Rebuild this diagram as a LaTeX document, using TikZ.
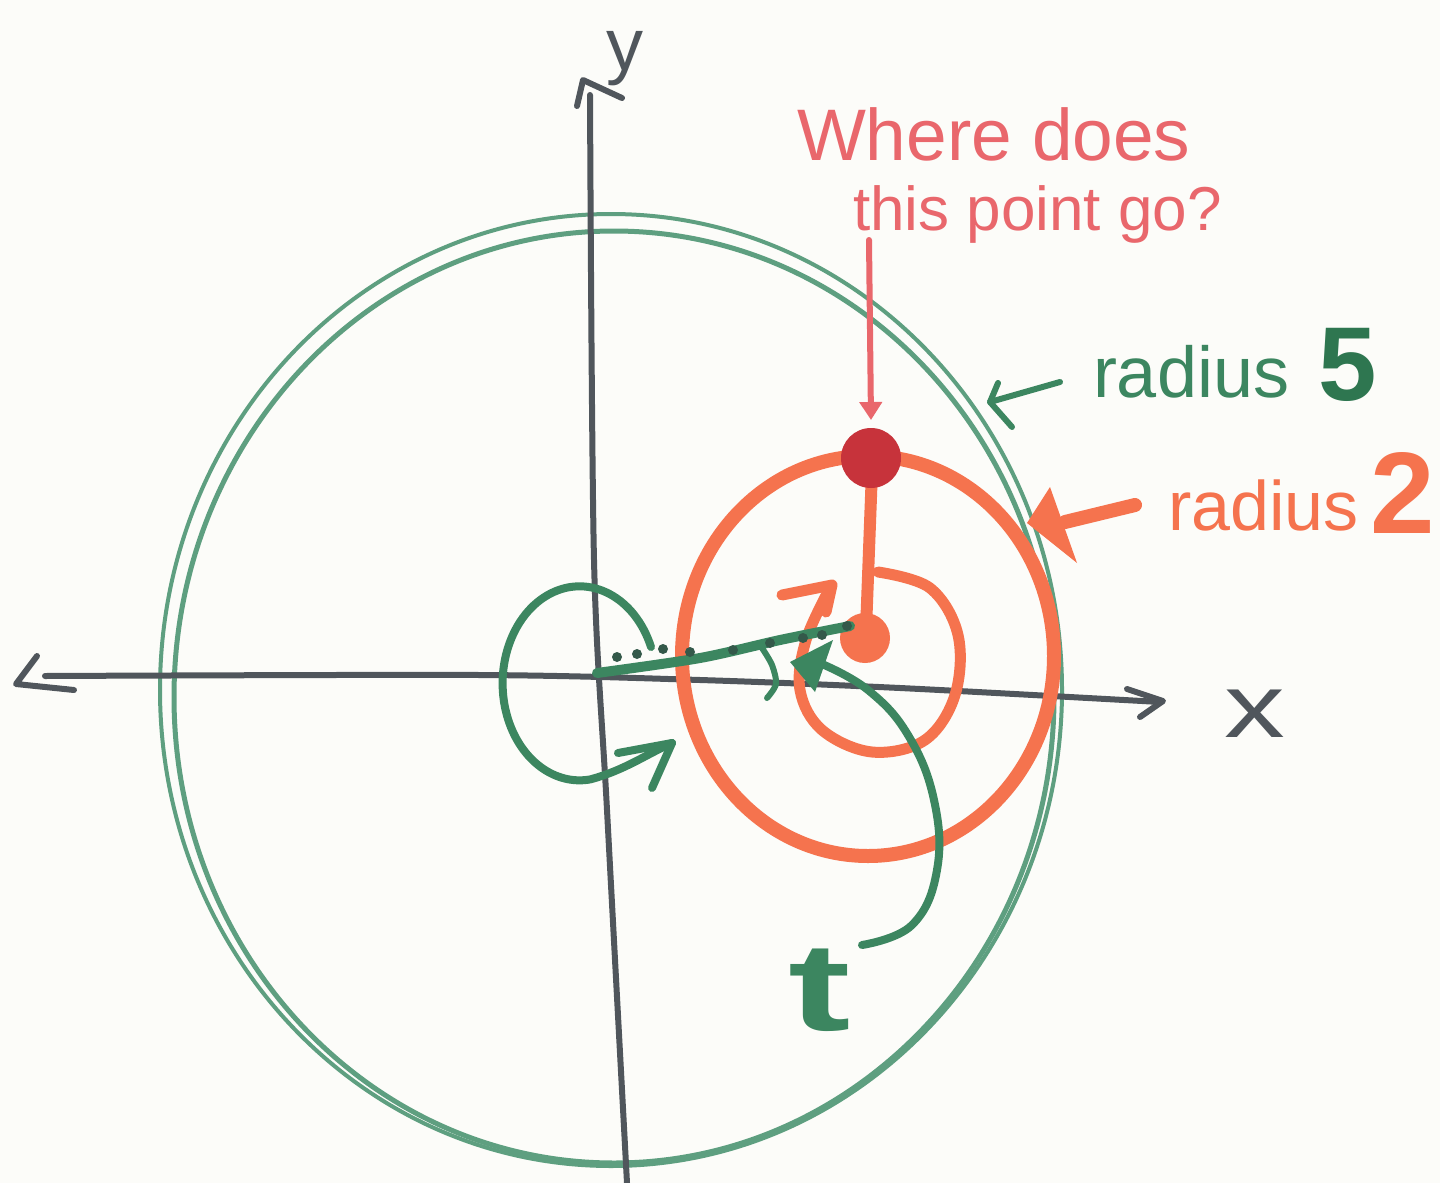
\documentclass[tikz,border=0pt]{standalone}
\usepackage{fontspec}
\usepackage{graphicx}
\setmainfont{Liberation Sans}
\usetikzlibrary{arrows.meta}
\definecolor{paper}{HTML}{FCFCF9}
\definecolor{axisgray}{HTML}{50565C}
\definecolor{greenthin}{HTML}{5E9F80}
\definecolor{greenm}{HTML}{3C8660}
\definecolor{greendark}{HTML}{2E7650}
\definecolor{greendot}{HTML}{34594A}
\definecolor{orangem}{HTML}{F5734E}
\definecolor{pinktext}{HTML}{E9676C}
\definecolor{dotred}{HTML}{C7333B}
\tikzset{
  axisline/.style={draw=axisgray, line width=6pt, line cap=round, line join=round},
  gthin/.style={draw=greenthin, line width=4pt},
  gmark/.style={draw=greenm, line width=8pt, line cap=round, line join=round},
  omark/.style={draw=orangem, line width=12pt, line cap=round, line join=round},
  pmark/.style={draw=pinktext, line width=6pt, line cap=round, line join=round},
  lbl/.style={inner sep=0pt, outer sep=0pt, anchor=base west},
}
\begin{document}
\begin{tikzpicture}[x=1pt,y=-1pt]
\useasboundingbox (0,0) rectangle (1440,1183);
\fill[paper] (0,0) rectangle (1440,1183);

% big green circles (radius 5)
\draw[gthin] (611,690) ellipse [x radius=451, y radius=476];
\draw[gthin, line width=5pt] (614,697) ellipse [x radius=440, y radius=466];

% axes
\draw[axisline] plot[smooth] coordinates {(45,676) (480,675) (700,680) (900,688) (1160,702)};
\draw[axisline] (1127,689) -- (1163,701) -- (1140,717);
\draw[axisline] (37,656) -- (16,684) -- (74,690);
\draw[axisline] plot[smooth] coordinates {(627,1183) (607,810) (594,560) (590,95)};
\draw[axisline] (577,106) -- (583,80) -- (622,98);
\node[lbl, text=axisgray] (ylab) at (606,70) {\fontsize{74}{80}\selectfont y};
\node[lbl, text=axisgray] (xlab) at (1224,737) {\scalebox{1.35}[1]{\fontsize{90}{100}\selectfont x}};

% small green circle around origin
\draw[gmark] (651,647) arc[start angle=-22, end angle=-278, x radius=77, y radius=97]
  .. controls (625,770) and (645,755) .. (672,743);
\draw[gmark] (618,753) -- (672,743) -- (652,788);

% orange big circle (radius 2)
\draw[omark, line width=14pt] (868,656) ellipse [x radius=186, y radius=200];

% inner orange spiral
\draw[omark, line width=11pt] plot[smooth, tension=0.6] coordinates {(878,572) (930,588) (958,635) (955,695) (925,740) (872,752) (822,730) (800,690) (806,640) (830,588)};
\draw[omark, line width=11pt] (782,595) -- (832,585) -- (826,612);

% radius line and points
\draw[omark] (866,630) -- (872,470);
\fill[orangem] (865,638) circle [radius=25];
\node[circle, fill=dotred, minimum size=60pt, inner sep=0pt] (pt) at (871,458) {};

% green radius-5 segment from origin to centre
\draw[gmark, line width=10pt] plot[smooth] coordinates {(597,673) (700,658) (780,640) (850,626)};
\foreach \p in {(617,657),(637,654),(663,649),(690,652),(733,650),(770,643),(803,638),(822,635),(847,626)}
  \fill[greendot] \p circle [radius=5];
\draw[gmark, line width=6pt] plot[smooth] coordinates {(762,648) (772,665) (776,684) (767,698)};

% green t arrow
\draw[gmark] plot[smooth, tension=0.7] coordinates {(862,945) (912,925) (937,870) (934,800) (908,735) (868,690) (822,664)};
\fill[greenm] (790,662) -- (833,640) -- (815,692) -- cycle;
\node[lbl, text=greenm] (tlab) at (788,1030) {\scalebox{1.5}[1]{\fontsize{125}{130}\selectfont\bfseries t}};

% question text and arrow
\node[lbl, text=pinktext] (q1) at (797,160) {\fontsize{73}{80}\selectfont Where does};
\node[lbl, text=pinktext] (q2) at (853,230) {\fontsize{62}{70}\selectfont this point go?};
\coordinate (qs) at (869,240);
\draw[pmark, -{Triangle[length=18pt,width=22pt]}] (qs) -- (pt.north |- 0,420);

% radius 5 label
\node[lbl, text=greenm] (r5) at (1093,397) {\fontsize{72}{80}\selectfont radius};
\node[lbl, text=greendark] (r5n) at (1318,400) {\fontsize{105}{110}\selectfont\bfseries 5};
\draw[gmark, line width=6pt] (1060,382) -- (990,402);
\draw[gmark, line width=6pt] (998,383) -- (990,402) -- (1012,427);

% radius 2 label
\node[lbl, text=orangem] (r2) at (1168,530) {\fontsize{70}{80}\selectfont radius};
\node[lbl, text=orangem] (r2n) at (1370,533) {\fontsize{116}{120}\selectfont\bfseries 2};
\draw[omark, line width=14pt] (1135,505) -- (1065,522);
\fill[orangem] (1050,487) -- (1027,523) -- (1077,563) -- cycle;
\end{tikzpicture}
\end{document}
